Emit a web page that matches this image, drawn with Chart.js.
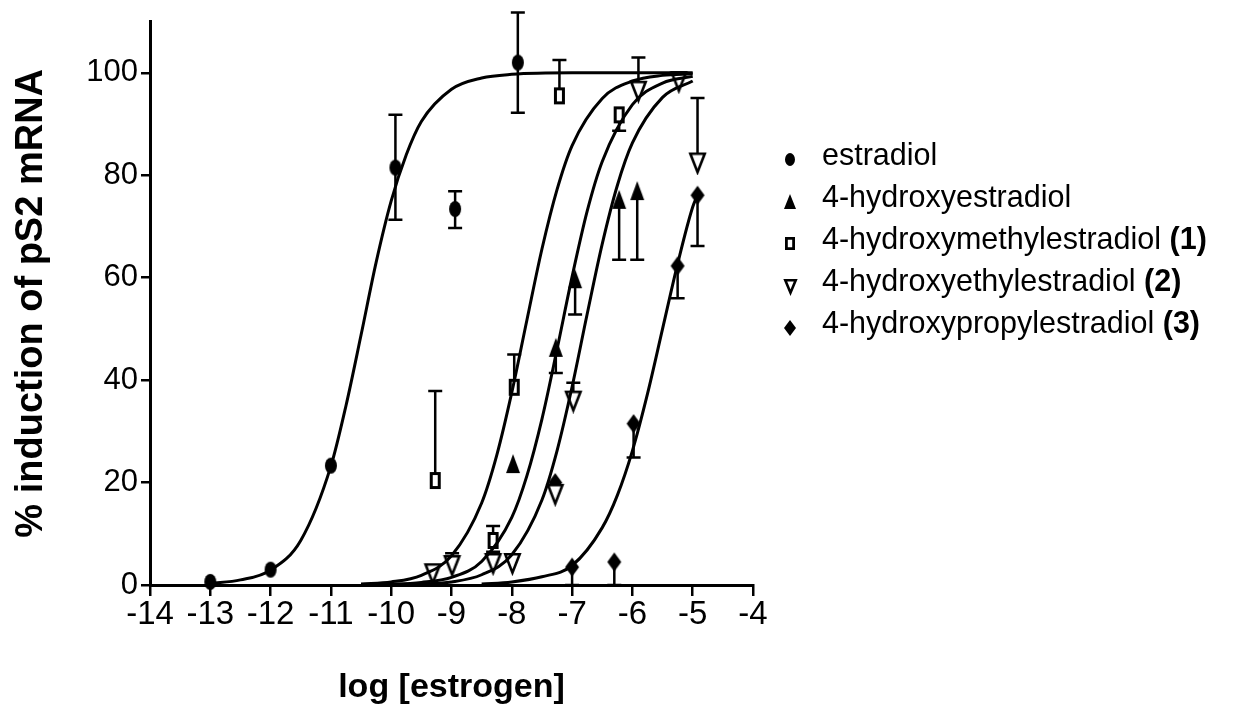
<!DOCTYPE html>
<html>
<head>
<meta charset="utf-8">
<script src="https://cdn.jsdelivr.net/npm/chart.js@4.4.0/dist/chart.umd.min.js"></script>
<style>
  html, body { margin: 0; padding: 0; background: #fff; }
  #wrap { position: relative; width: 1252px; height: 717px; }
  #legend { position: absolute; left: 772px; top: 133px; font-family: 'Liberation Sans', Arial, sans-serif; font-size: 30.5px; color: #000; }
  #legend .row { height: 42px; line-height: 42px; white-space: nowrap; }
  #legend .mk { display: inline-block; width: 36px; text-align: center; vertical-align: middle; margin-right: 14px; }
  #legend .mk img { vertical-align: middle; }
</style>
</head>
<body>
<div id="wrap">
  <canvas id="chart" width="1252" height="717"></canvas>
  <div id="legend"></div>
</div>
<script>
// axis ticks
const xTickValues = [-14, -13, -12, -11, -10, -9, -8, -7, -6, -5, -4];
const yTickValues = [0, 20, 40, 60, 80, 100];

// legend
const seriesNames = ['estradiol', '4-hydroxyestradiol', '4-hydroxymethylestradiol', '4-hydroxyethylestradiol', '4-hydroxypropylestradiol'];
const seriesTags = ['', '', '(1)', '(2)', '(3)'];

// measured points (x = log conc, y = % induction), error bar ends (null = none)
const e2X = [-13, -12, -11, -9.93, -8.94, -7.9];
const e2Y = [0.6, 3.0, 23.3, 81.5, 73.4, 102];
const e2Lo = [null, null, null, 71.3, 69.7, 92.2];
const e2Hi = [null, null, null, 91.8, 76.9, 111.8];

const ohX = [-7.98, -7.27, -6.95, -6.22, -5.92];
const ohY = [23.7, 46.4, 59.8, 75.3, 77];
const ohLo = [null, 41.4, 52.8, 63.5, 63.5];
const ohHi = [null, null, null, null, null];

const meX = [-9.27, -8.31, -7.96, -7.21, -6.22];
const meY = [20.4, 8.7, 38.6, 95.5, 91.8];
const meLo = [null, null, null, null, 88.7];
const meHi = [37.9, 11.5, 45, 102.5, null];

const etX = [-9.31, -8.99, -8.31, -7.99, -7.28, -6.98, -5.9, -5.23, -4.92];
const etY = [2.3, 3.9, 4.3, 4.3, 17.8, 36, 96.5, 98.4, 82.5];
const etLo = [null, null, null, null, null, null, null, null, null];
const etHi = [null, 6.2, 6.5, null, null, 39.5, 103, null, 95.1];

const prX = [-7.28, -7.0, -6.3, -5.98, -5.25, -4.92];
const prY = [20, 3.5, 4.5, 31.5, 62.3, 76.1];
const prLo = [null, 0, 0, 24.9, 56, 66.2];
const prHi = [null, null, null, null, null, null];

// fitted curves
const fitE2X = [-13, -12.5, -12, -11.5, -11, -10.75, -10.5, -10.25, -10, -9.75, -9.5, -9, -8.5, -8, -7, -6, -5];
const fitE2Y = [0.3, 1.0, 2.9, 8.7, 23.2, 35, 48.8, 63, 75, 84, 90.5, 96.8, 99, 99.7, 100, 100, 100];
const fitMeX = [-10.5, -10, -9.5, -9, -8.5, -8.25, -8, -7.75, -7.5, -7.25, -7, -6.5, -6, -5.5, -5];
const fitMeY = [0.2, 0.6, 1.9, 5.7, 16, 25.3, 37.6, 51.7, 65.6, 77.2, 85.8, 95, 98.4, 99.5, 99.8];
const fitOhX = [-10.5, -10, -9.5, -9, -8.5, -8, -7.75, -7.5, -7.25, -7, -6.75, -6.5, -6, -5.5, -5];
const fitOhY = [0.05, 0.15, 0.5, 1.5, 4.6, 13.2, 21.3, 32.4, 46, 60.2, 73, 82.7, 93.8, 98, 99.3];
const fitEtX = [-10.5, -10, -9.5, -9, -8.5, -8, -7.5, -7.25, -7, -6.75, -6.5, -6.25, -6, -5.5, -5];
const fitEtY = [0.02, 0.06, 0.2, 0.6, 2, 5.9, 16.6, 26.2, 38.7, 52.9, 66.6, 78, 86.3, 95.2, 98.4];
const fitPrX = [-8.5, -8, -7.5, -7, -6.5, -6.25, -6, -5.75, -5.5, -5.25, -5, -4.92];
const fitPrY = [0.2, 0.6, 1.6, 3.8, 11.2, 17.5, 26.2, 37.3, 50, 62.7, 73.8, 76.1];


const pts = (xs, ys) => xs.map((x, i) => ({ x: x, y: ys[i] }));

// marker images (the scan stretches them a little vertically)
function makeMarker(kind, w, h, lw) {
  const c = document.createElement('canvas');
  c.width = w + 4;
  c.height = h + 4;
  const g = c.getContext('2d');
  g.translate(2, 2);
  g.fillStyle = '#000';
  g.strokeStyle = '#000';
  g.lineWidth = lw;
  const i = lw / 2;
  g.beginPath();
  if (kind === 'ellipse') {
    g.ellipse(w / 2, h / 2, w / 2, h / 2, 0, 0, Math.PI * 2);
    g.fill();
  } else if (kind === 'triUp') {
    g.moveTo(w / 2, 0); g.lineTo(w, h); g.lineTo(0, h); g.closePath();
    g.fill();
  } else if (kind === 'diamond') {
    g.moveTo(w / 2, 0); g.lineTo(w, h / 2); g.lineTo(w / 2, h); g.lineTo(0, h / 2); g.closePath();
    g.fill();
  } else if (kind === 'rect') {
    g.rect(i, i, w - lw, h - lw);
    g.fillStyle = '#fff'; g.fill(); g.stroke();
  } else if (kind === 'triDown') {
    g.moveTo(i, i + 1); g.lineTo(w - i, i + 1); g.lineTo(w / 2, h - i); g.closePath();
    g.fillStyle = '#fff'; g.fill(); g.stroke();
  }
  return c;
}

const markers = [
  makeMarker('ellipse', 12, 16, 0),
  makeMarker('triUp', 14, 19, 0),
  makeMarker('rect', 11, 17, 3),
  makeMarker('triDown', 17, 22, 2.6),
  makeMarker('diamond', 14, 19, 0)
];
const legendMarkers = [
  makeMarker('ellipse', 10, 13, 0),
  makeMarker('triUp', 12, 15, 0),
  makeMarker('rect', 10, 13, 2.8),
  makeMarker('triDown', 13, 16, 2.6),
  makeMarker('diamond', 12, 16, 0)
];

// html legend
const legendEl = document.getElementById('legend');
seriesNames.forEach((name, i) => {
  const row = document.createElement('div');
  row.className = 'row';
  const tag = seriesTags[i] ? ' <b>' + seriesTags[i] + '</b>' : '';
  row.innerHTML = '<span class="mk"><img src="' + legendMarkers[i].toDataURL() + '"></span>' + name + tag;
  legendEl.appendChild(row);
});

function curve(xs, ys) {
  return {
    data: pts(xs, ys),
    showLine: true,
    pointRadius: 0,
    borderColor: '#000',
    borderWidth: 3,
    cubicInterpolationMode: 'monotone',
    clip: false
  };
}

function points(xs, ys, lo, hi, img) {
  return {
    data: pts(xs, ys),
    showLine: false,
    pointStyle: img,
    pointRadius: 8,
    errLo: lo,
    errHi: hi,
    clip: false
  };
}

// vertical error bars with caps, drawn under the markers
const errorBars = {
  id: 'errorBars',
  beforeDatasetsDraw(chart) {
    const { ctx, scales: { x, y } } = chart;
    ctx.save();
    ctx.strokeStyle = '#000';
    ctx.lineWidth = 2.5;
    chart.data.datasets.forEach(ds => {
      if (!ds.errLo && !ds.errHi) return;
      ds.data.forEach((p, i) => {
        const px = x.getPixelForValue(p.x);
        const py = y.getPixelForValue(p.y);
        [ds.errLo[i], ds.errHi[i]].forEach(v => {
          if (v == null) return;
          const ey = y.getPixelForValue(v);
          ctx.beginPath();
          ctx.moveTo(px, py);
          ctx.lineTo(px, ey);
          ctx.moveTo(px - 7, ey);
          ctx.lineTo(px + 7, ey);
          ctx.stroke();
        });
      });
    });
    ctx.restore();
  }
};

const fam = "'Liberation Sans', Arial, sans-serif";

new Chart(document.getElementById('chart').getContext('2d'), {
  type: 'scatter',
  data: {
    datasets: [
      curve(fitE2X, fitE2Y),
      curve(fitMeX, fitMeY),
      curve(fitOhX, fitOhY),
      curve(fitEtX, fitEtY),
      curve(fitPrX, fitPrY),
      points(e2X, e2Y, e2Lo, e2Hi, markers[0]),
      points(ohX, ohY, ohLo, ohHi, markers[1]),
      points(meX, meY, meLo, meHi, markers[2]),
      points(etX, etY, etLo, etHi, markers[3]),
      points(prX, prY, prLo, prHi, markers[4])
    ]
  },
  options: {
    responsive: false,
    animation: false,
    devicePixelRatio: 1,
    layout: { padding: { top: 18, right: 499, left: 0, bottom: 0 } },
    plugins: {
      legend: { display: false },
      tooltip: { enabled: false }
    },
    scales: {
      x: {
        type: 'linear',
        min: -14,
        max: -4,
        afterBuildTicks: axis => { axis.ticks = xTickValues.map(v => ({ value: v })); },
        afterFit: axis => { axis.height = 132; },
        grid: { drawOnChartArea: false, drawTicks: true, tickLength: 11, color: '#000', lineWidth: 2.5 },
        border: { display: true, color: '#000', width: 3 },
        ticks: { color: '#000', font: { family: fam, size: 33 }, padding: -1, maxRotation: 0 },
        title: { display: true, text: 'log [estrogen]', color: '#000', font: { family: fam, size: 34, weight: 'bold' }, padding: { top: 0, bottom: 9 } }
      },
      y: {
        type: 'linear',
        min: 0,
        max: 110,
        afterBuildTicks: axis => { axis.ticks = yTickValues.map(v => ({ value: v })); },
        afterFit: axis => { axis.width = 150; },
        grid: { drawOnChartArea: false, drawTicks: true, tickLength: 9, color: '#000', lineWidth: 2.5 },
        border: { display: true, color: '#000', width: 3 },
        ticks: { color: '#000', font: { family: fam, size: 31 }, padding: 3 },
        title: { display: true, text: '% induction of pS2 mRNA', color: '#000', font: { family: fam, size: 38, weight: 'bold' }, padding: { top: 9, bottom: 0 } }
      }
    }
  },
  plugins: [errorBars]
});
</script>
</body>
</html>
